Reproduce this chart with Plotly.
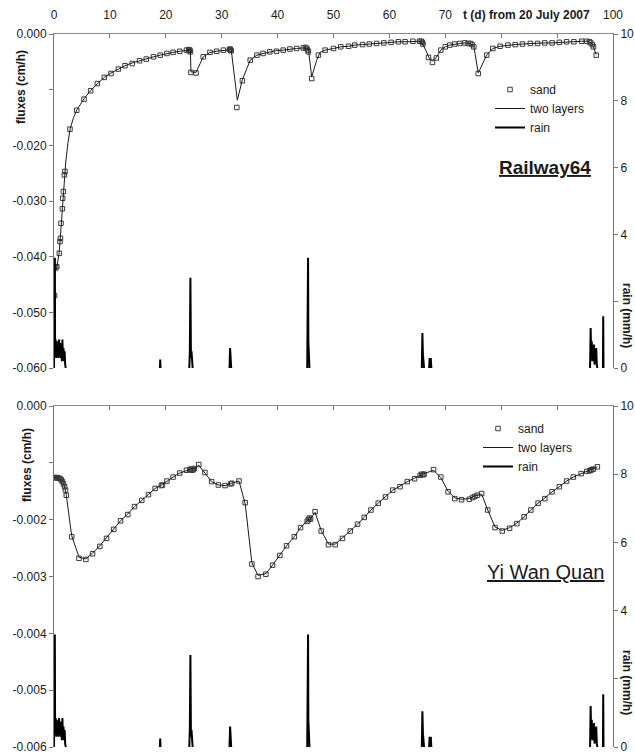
import plotly.graph_objects as go

# ---------------- data ----------------
# time axis ticks (days from 20 July 2007)
x_tickvals = [0, 10, 20, 30, 40, 50, 60, 70, 80, 90, 100]
x_ticktext = ["0", "10", "20", "30", "40", "50", "60", "70", "", "", "100"]

# Railway64 - sand (markers)
rw_sand_t = [0.1, 0.3, 0.5, 0.95, 1.07, 1.15, 1.25, 1.5, 1.55, 1.67, 1.85, 1.97, 2.86, 4.06, 5.37,
             6.56, 7.75, 9.0, 10.2, 11.5, 12.7, 14.0, 15.3, 16.5, 17.8, 19.0, 20.2, 21.3, 22.5,
             23.7, 24.1, 24.2, 24.3, 24.4, 24.5, 25.4, 26.7, 27.9, 29.1, 30.3, 31.4, 31.5, 31.6,
             31.7, 32.7, 33.7, 35.1, 36.3, 37.4, 38.6, 39.8, 41.0, 42.2, 43.4, 44.6, 45.0, 45.2,
             45.4, 45.5, 46.1, 47.3, 48.5, 50.0, 51.3, 52.7, 53.8, 55.2, 56.4, 57.7, 59.0, 60.3,
             61.6, 62.8, 64.2, 65.4, 65.7, 65.9, 66.0, 67.0, 67.7, 68.4, 69.2, 70.0, 70.8, 71.7,
             72.6, 73.5, 74.1, 74.5, 74.8, 75.1, 75.9, 77.4, 78.5, 79.8, 81.2, 82.5, 83.8, 85.2,
             86.5, 87.8, 89.1, 90.4, 91.7, 93.0, 94.4, 95.3, 95.8, 96.0, 96.3, 96.5, 97.0]
rw_sand_flux = [-0.0470, -0.0420, -0.0418, -0.0394, -0.0373, -0.0367, -0.0340, -0.0314, -0.0295,
                -0.0283, -0.0253, -0.0247, -0.0171, -0.0137, -0.0117, -0.0102, -0.0089, -0.0078,
                -0.0071, -0.0063, -0.0057, -0.0053, -0.0048, -0.0045, -0.0041, -0.0038, -0.0035,
                -0.0033, -0.0031, -0.0029, -0.0028, -0.0030, -0.0029, -0.0032, -0.0069, -0.0070,
                -0.0041, -0.0033, -0.0031, -0.0029, -0.0028, -0.0027, -0.0029, -0.0030, -0.0132,
                -0.0084, -0.0047, -0.0038, -0.0035, -0.0032, -0.0031, -0.0029, -0.0027, -0.0026,
                -0.0025, -0.0024, -0.0026, -0.0029, -0.0032, -0.0080, -0.0038, -0.0029, -0.0026,
                -0.0023, -0.0022, -0.0020, -0.0019, -0.0018, -0.0017, -0.0016, -0.0015, -0.0014,
                -0.0014, -0.0013, -0.0013, -0.0013, -0.0015, -0.0018, -0.0042, -0.0051, -0.0043,
                -0.0029, -0.0023, -0.0020, -0.0018, -0.0017, -0.0016, -0.0017, -0.0017, -0.0019,
                -0.0023, -0.0071, -0.0038, -0.0026, -0.0022, -0.0020, -0.0019, -0.0018, -0.0017,
                -0.0017, -0.0016, -0.0016, -0.0015, -0.0014, -0.0014, -0.0013, -0.0013, -0.0014,
                -0.0016, -0.0019, -0.0023, -0.0038]

# Railway64 - two layers (line)
rw_layer_t = [0.0, 0.2, 0.5, 0.9, 1.1, 1.3, 1.5, 1.7, 1.9, 2.1, 2.5, 2.9, 3.5, 4.1, 5.4, 6.6, 7.8,
              9.0, 10.2, 11.5, 12.7, 14.0, 15.3, 16.5, 17.8, 19.0, 20.2, 21.3, 22.5, 23.7, 24.4,
              24.5, 25.4, 26.7, 27.9, 29.1, 30.3, 31.7, 32.8, 33.7, 35.1, 36.3, 37.4, 38.6, 39.8,
              41.0, 42.2, 43.4, 44.6, 45.5, 46.1, 47.0, 47.6, 48.5, 50.0, 51.3, 52.7, 53.8, 55.2,
              56.4, 57.7, 59.0, 60.3, 61.6, 62.8, 64.2, 65.7, 66.5, 67.1, 67.7, 68.4, 69.2, 70.0,
              70.8, 71.7, 72.6, 73.5, 74.5, 75.1, 75.9, 77.4, 78.5, 79.8, 81.2, 82.5, 83.8, 85.2,
              86.5, 87.8, 89.1, 90.4, 91.7, 93.0, 94.4, 95.5, 96.3, 97.0]
rw_layer_flux = [-0.0480, -0.0430, -0.0418, -0.0395, -0.0370, -0.0340, -0.0310, -0.0280, -0.0252,
                 -0.0230, -0.0195, -0.0170, -0.0150, -0.0136, -0.0116, -0.0101, -0.0089, -0.0078,
                 -0.0070, -0.0063, -0.0057, -0.0052, -0.0048, -0.0044, -0.0041, -0.0038, -0.0035,
                 -0.0033, -0.0031, -0.0029, -0.0029, -0.0068, -0.0069, -0.0041, -0.0033, -0.0031,
                 -0.0029, -0.0028, -0.0119, -0.0082, -0.0047, -0.0038, -0.0035, -0.0032, -0.0030,
                 -0.0029, -0.0027, -0.0026, -0.0025, -0.0026, -0.0077, -0.0047, -0.0033, -0.0029,
                 -0.0026, -0.0023, -0.0022, -0.0020, -0.0019, -0.0018, -0.0017, -0.0016, -0.0015,
                 -0.0014, -0.0014, -0.0013, -0.0013, -0.0029, -0.0043, -0.0048, -0.0042, -0.0029,
                 -0.0023, -0.0020, -0.0018, -0.0017, -0.0016, -0.0017, -0.0022, -0.0070, -0.0038,
                 -0.0026, -0.0022, -0.0020, -0.0019, -0.0018, -0.0017, -0.0017, -0.0016, -0.0016,
                 -0.0015, -0.0014, -0.0014, -0.0013, -0.0013, -0.0018, -0.0037]

# Yi Wan Quan - sand (markers)
yw_sand_t = [0.1, 0.3, 0.5, 0.7, 0.9, 1.1, 1.3, 1.5, 1.7, 1.9, 2.05, 2.2, 3.16, 4.47, 5.7, 6.9, 8.2,
             9.4, 10.7, 11.9, 13.2, 14.4, 15.7, 16.9, 18.1, 19.2, 19.4, 20.2, 21.3, 22.5, 23.7,
             24.3, 24.5, 24.7, 24.9, 25.1, 25.9, 27.0, 28.2, 29.4, 30.6, 31.6, 31.8, 33.1, 34.2,
             35.4, 36.5, 37.9, 39.1, 40.4, 41.6, 43.0, 44.1, 45.3, 45.5, 45.7, 45.9, 46.7, 47.8,
             49.1, 50.3, 51.6, 53.0, 54.3, 55.5, 56.7, 58.0, 59.3, 60.6, 61.9, 63.2, 64.5, 65.5,
             65.8, 66.0, 66.2, 67.9, 69.2, 70.5, 71.7, 72.9, 74.3, 74.9, 75.3, 75.7, 76.5, 77.6,
             78.9, 80.2, 81.5, 82.8, 84.1, 85.3, 86.6, 87.8, 89.1, 90.4, 91.7, 92.9, 94.3, 95.3,
             95.8, 96.0, 96.2, 96.5, 97.2]
yw_sand_flux = [-0.00126, -0.00126, -0.00126, -0.00127, -0.00127, -0.00128, -0.00130, -0.00133,
                -0.00137, -0.00142, -0.00148, -0.00157, -0.00230, -0.00268, -0.00270, -0.00260,
                -0.00247, -0.00233, -0.00217, -0.00202, -0.00191, -0.00177, -0.00166, -0.00156,
                -0.00145, -0.00140, -0.00139, -0.00132, -0.00125, -0.00118, -0.00113, -0.00112,
                -0.00111, -0.00113, -0.00112, -0.00110, -0.00103, -0.00117, -0.00133, -0.00139,
                -0.00140, -0.00137, -0.00136, -0.00132, -0.00170, -0.00278, -0.00300, -0.00296,
                -0.00280, -0.00263, -0.00246, -0.00230, -0.00214, -0.00203, -0.00200, -0.00197,
                -0.00199, -0.00186, -0.00220, -0.00244, -0.00244, -0.00233, -0.00220, -0.00208,
                -0.00196, -0.00183, -0.00171, -0.00160, -0.00148, -0.00142, -0.00133, -0.00128,
                -0.00122, -0.00120, -0.00121, -0.00120, -0.00112, -0.00125, -0.00151, -0.00163,
                -0.00165, -0.00164, -0.00161, -0.00159, -0.00157, -0.00154, -0.00183, -0.00214,
                -0.00220, -0.00215, -0.00207, -0.00195, -0.00183, -0.00171, -0.00163, -0.00151,
                -0.00142, -0.00132, -0.00125, -0.00119, -0.00115, -0.00114, -0.00113, -0.00112,
                -0.00111, -0.00107]

# Yi Wan Quan - two layers (line)
yw_layer_t = [0.0, 0.5, 1.0, 1.5, 1.9, 2.2, 3.16, 4.47, 5.7, 6.9, 8.2, 9.4, 10.7, 11.9, 13.2, 14.4,
              15.7, 16.9, 18.1, 19.4, 20.2, 21.3, 22.5, 23.7, 24.5, 25.1, 25.9, 27.0, 28.2, 29.4,
              30.6, 31.8, 33.1, 34.2, 35.4, 36.5, 37.9, 39.1, 40.4, 41.6, 43.0, 44.1, 45.5, 46.0,
              46.7, 47.8, 49.1, 50.3, 51.6, 53.0, 54.3, 55.5, 56.7, 58.0, 59.3, 60.6, 61.9, 63.2,
              64.5, 65.5, 66.2, 67.9, 69.2, 70.5, 71.7, 72.9, 74.3, 75.3, 76.5, 77.6, 78.9, 80.2,
              81.5, 82.8, 84.1, 85.3, 86.6, 87.8, 89.1, 90.4, 91.7, 92.9, 94.3, 95.3, 96.2, 97.2]
yw_layer_flux = [-0.00126, -0.00126, -0.00128, -0.00133, -0.00142, -0.00157, -0.00228, -0.00266,
                 -0.00269, -0.00259, -0.00246, -0.00232, -0.00216, -0.00202, -0.00190, -0.00177,
                 -0.00166, -0.00156, -0.00145, -0.00138, -0.00132, -0.00125, -0.00118, -0.00113,
                 -0.00111, -0.00110, -0.00104, -0.00118, -0.00133, -0.00139, -0.00140, -0.00136,
                 -0.00132, -0.00172, -0.00276, -0.00298, -0.00295, -0.00280, -0.00263, -0.00246,
                 -0.00230, -0.00214, -0.00200, -0.00197, -0.00187, -0.00219, -0.00243, -0.00243,
                 -0.00232, -0.00220, -0.00208, -0.00196, -0.00183, -0.00171, -0.00160, -0.00148,
                 -0.00141, -0.00133, -0.00127, -0.00122, -0.00119, -0.00113, -0.00126, -0.00150,
                 -0.00162, -0.00164, -0.00163, -0.00158, -0.00155, -0.00183, -0.00213, -0.00219,
                 -0.00214, -0.00206, -0.00195, -0.00183, -0.00171, -0.00162, -0.00151, -0.00142,
                 -0.00132, -0.00125, -0.00119, -0.00115, -0.00112, -0.00107]

# rain (mm/h), same record for both sites
rain_t = [0.0, 0.15, 0.2, 0.3, 0.4, 0.5, 0.6, 0.7, 0.8, 0.9, 1.0, 1.1, 1.2, 1.3, 1.4, 1.5, 1.6,
          1.7, 1.8, 1.9, 2.0, 2.1,
          18.95, 19.0, 19.05,
          24.2, 24.3, 24.4, 24.45, 24.5, 24.6, 24.7, 24.8,
          31.4, 31.5, 31.6, 31.7,
          45.3, 45.4, 45.45, 45.5, 45.6, 45.7,
          65.8, 65.9, 66.0, 66.1, 66.2, 67.1, 67.2, 67.3, 67.4, 67.5,
          75.1, 75.7,
          95.9, 96.0, 96.1, 96.2, 96.3, 96.4, 96.5, 96.6, 96.7, 96.8, 96.9, 97.0, 97.1, 97.2,
          98.2, 98.25, 98.3]
rain_mm = [0.0, 3.3, 0.4, 0.85, 0.3, 0.8, 0.35, 0.7, 0.3, 0.85, 0.4, 0.75, 0.3, 0.6, 0.2, 0.85,
           0.3, 0.6, 0.2, 0.5, 0.1, 0.0,
           0.0, 0.25, 0.0,
           0.0, 0.5, 2.7, 0.6, 0.3, 0.5, 0.3, 0.0,
           0.0, 0.6, 0.3, 0.0,
           0.0, 1.2, 3.3, 0.8, 0.4, 0.0,
           0.0, 1.05, 0.4, 0.2, 0.0, 0.0, 0.3, 0.0, 0.3, 0.0,
           1.0, 0.0,
           0.0, 1.2, 0.3, 0.8, 0.2, 0.6, 0.2, 0.7, 0.1, 0.5, 0.3, 0.6, 0.1, 0.0,
           0.0, 1.55, 0.0]

flux_top_vals = [0.0, -0.01, -0.02, -0.03, -0.04, -0.05, -0.06]
flux_top_text = ["0.000", "", "-0.020", "-0.030", "-0.040", "-0.050", "-0.060"]
flux_bot_vals = [0.0, -0.001, -0.002, -0.003, -0.004, -0.005, -0.006]
flux_bot_text = ["0.000", "", "-0.002", "-0.003", "-0.004", "-0.005", "-0.006"]
rain_vals = [0, 2, 4, 6, 8, 10]
rain_text = ["0", "", "4", "6", "8", "10"]


def split_gaps(t, v, gap=0.5):
    """break the rain line where the record has a gap"""
    xs, ys = [], []
    for i, (a, b) in enumerate(zip(t, v)):
        if i > 0 and a - t[i - 1] > gap:
            xs.append(None)
            ys.append(None)
        xs.append(a)
        ys.append(b)
    return xs, ys


rain_x, rain_y = split_gaps(rain_t, rain_mm)

# ---------------- figure ----------------
W, H = 635, 754
L, R, T, B = 54, 22, 34, 7
ph = H - T - B
pw = W - L - R


def py(px):  # pixel row -> paper y
    return (H - B - px) / ph


def pxx(px):  # pixel column -> paper x
    return (px - L) / pw


FONT = "Liberation Sans, Arial, sans-serif"
INK = "#1a1a1a"
MK = dict(symbol="square-open", size=4.5, color="#3a3a3a", line=dict(width=1, color="#3a3a3a"))

fig = go.Figure()

# top panel
fig.add_trace(go.Scatter(x=rw_sand_t, y=rw_sand_flux, mode="markers", name="sand", marker=MK,
                         xaxis="x", yaxis="y", legend="legend"))
fig.add_trace(go.Scatter(x=rw_layer_t, y=rw_layer_flux, mode="lines", name="two layers",
                         line=dict(color=INK, width=1), xaxis="x", yaxis="y", legend="legend"))
fig.add_trace(go.Scatter(x=rain_x, y=rain_y, mode="lines", name="rain",
                         line=dict(color="#000", width=2), connectgaps=False,
                         xaxis="x", yaxis="y2", legend="legend"))

# bottom panel
fig.add_trace(go.Scatter(x=yw_sand_t, y=yw_sand_flux, mode="markers", name="sand", marker=MK,
                         xaxis="x2", yaxis="y3", legend="legend2"))
fig.add_trace(go.Scatter(x=yw_layer_t, y=yw_layer_flux, mode="lines", name="two layers",
                         line=dict(color=INK, width=1), xaxis="x2", yaxis="y3", legend="legend2"))
fig.add_trace(go.Scatter(x=rain_x, y=rain_y, mode="lines", name="rain",
                         line=dict(color="#000", width=2), connectgaps=False,
                         xaxis="x2", yaxis="y4", legend="legend2"))

top_dom = [py(368), 1.0]
bot_dom = [0.0, py(406)]

xcommon = dict(range=[0, 100], side="top", showline=True, linecolor="#8a8a8a", linewidth=1,
               ticks="inside", ticklen=4, tickcolor="#777", tickvals=x_tickvals,
               showgrid=False, zeroline=False, automargin=False, ticklabeloverflow="allow",
               tickfont=dict(size=12, color=INK, family=FONT))
ycommon = dict(showline=True, linecolor="#777", linewidth=1, ticks="outside", ticklen=4,
               tickcolor="#777", showgrid=False, zeroline=False, automargin=False,
               ticklabeloverflow="allow", tickfont=dict(size=12, color=INK, family=FONT))

fig.update_layout(
    width=W, height=H,
    margin=dict(l=L, r=R, t=T, b=B, autoexpand=False),
    paper_bgcolor="white", plot_bgcolor="white",
    font=dict(family=FONT, size=12, color=INK),
    xaxis=dict(**xcommon, anchor="y", domain=[0, 1], ticktext=x_ticktext, ticklabelstandoff=9),
    xaxis2=dict(**xcommon, anchor="y3", domain=[0, 1], showticklabels=False, matches="x"),
    yaxis=dict(**ycommon, domain=top_dom, range=[-0.06, 0], tickvals=flux_top_vals,
               ticktext=flux_top_text, anchor="x"),
    yaxis2=dict(**ycommon, overlaying="y", side="right", range=[0, 10], tickvals=rain_vals,
                ticktext=rain_text, anchor="x"),
    yaxis3=dict(**ycommon, domain=bot_dom, range=[-0.006, 0], tickvals=flux_bot_vals,
                ticktext=flux_bot_text, anchor="x2"),
    yaxis4=dict(**ycommon, overlaying="y3", side="right", range=[0, 10], tickvals=rain_vals,
                ticktext=rain_text, anchor="x2"),
    legend=dict(x=pxx(490), y=py(75), xanchor="left", yanchor="top", bgcolor="rgba(0,0,0,0)",
                font=dict(size=12, family=FONT, color=INK), itemwidth=30, tracegroupgap=0),
    legend2=dict(x=pxx(478), y=py(414), xanchor="left", yanchor="top", bgcolor="rgba(0,0,0,0)",
                 font=dict(size=12, family=FONT, color=INK), itemwidth=30, tracegroupgap=0),
    showlegend=True,
)

C = dict(xanchor="center", yanchor="middle", showarrow=False)
ann = [
    dict(text="<b>t (d) from 20 July 2007</b>", x=84.6, xref="x", y=1, yref="paper",
         yshift=19, font=dict(size=12), **C),
    dict(text="<b>fluxes (cm/h)</b>", x=pxx(21), xref="paper", y=py(87), yref="paper",
         textangle=-90, font=dict(size=12), **C),
    dict(text="<b>fluxes (cm/h)</b>", x=pxx(27), xref="paper", y=py(465), yref="paper",
         textangle=-90, font=dict(size=12), **C),
    dict(text="<b>rain (mm/h)</b>", x=pxx(627), xref="paper", y=py(315), yref="paper",
         textangle=90, font=dict(size=12), **C),
    dict(text="<b>rain (mm/h)</b>", x=pxx(627), xref="paper", y=py(682), yref="paper",
         textangle=90, font=dict(size=12), **C),
    dict(text="<b><u>Railway64</u></b>", x=87.8, xref="x", y=py(167), yref="paper",
         font=dict(size=19), **C),
    dict(text="<u>Yi Wan Quan</u>", x=88.0, xref="x", y=py(572), yref="paper",
         font=dict(size=20), **C),
]
fig.update_layout(annotations=ann)

# the page's default 8px body margin would push the chart off its frame
fig.write_html("out.html", config={"displayModeBar": False},
               post_script="document.body.style.margin='0';")
